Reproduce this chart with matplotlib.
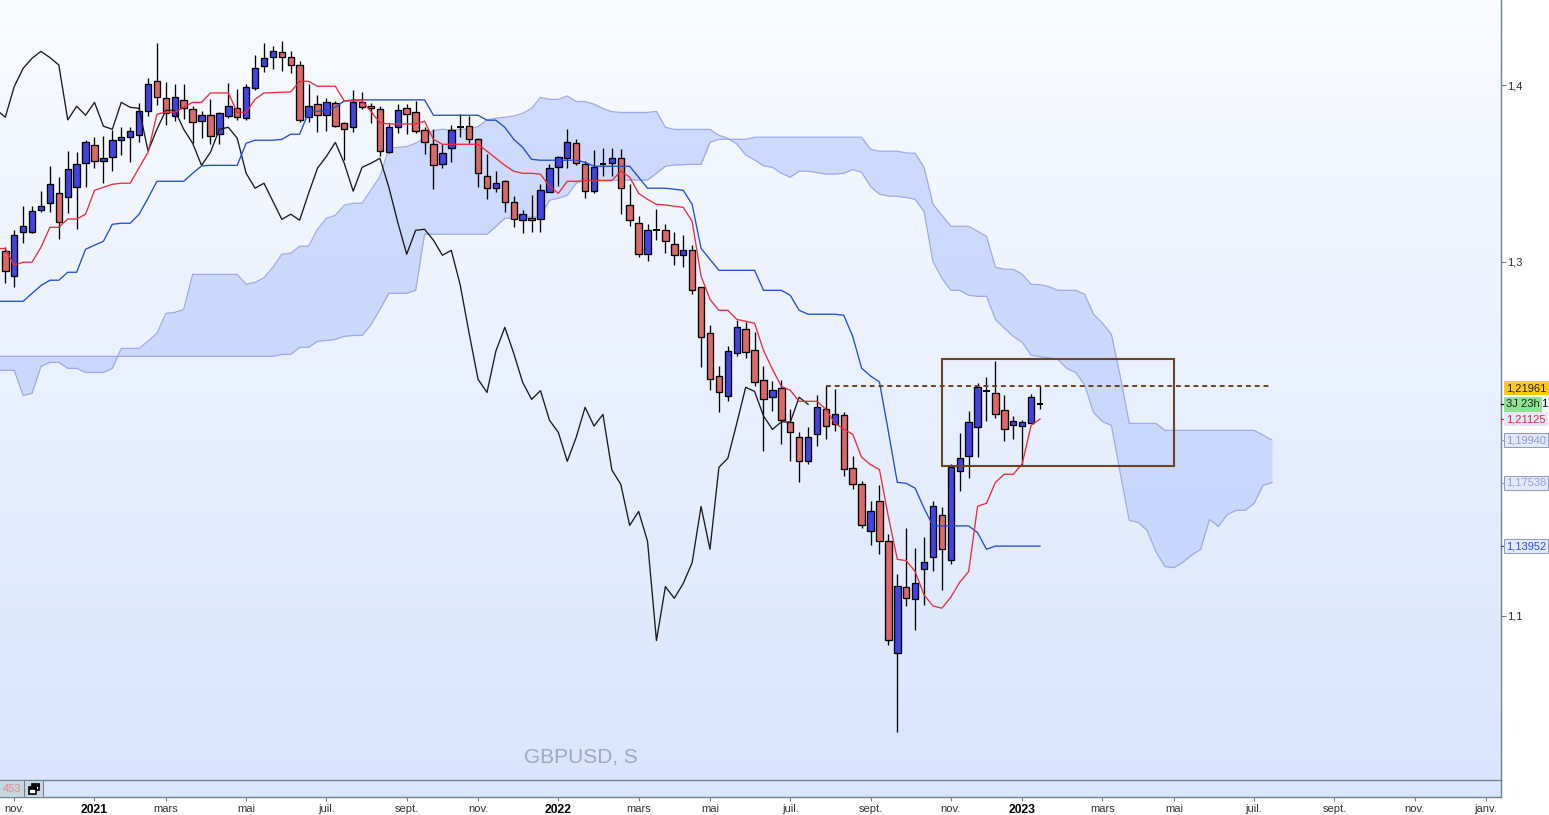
import numpy as np
import matplotlib
matplotlib.use("Agg")
import matplotlib.pyplot as plt
from matplotlib.colors import LinearSegmentedColormap
from matplotlib.patches import Rectangle

plt.rcParams["font.family"] = ["Liberation Sans", "DejaVu Sans"]

# weekly GBPUSD candles, one value per week
candle_high = [
    1.3087, 1.3181, 1.3317, 1.3317, 1.3400, 1.3543, 1.3481, 1.3627, 1.3622, 1.3690,
    1.3707, 1.3712, 1.3746, 1.3763, 1.3763, 1.3901, 1.4038, 1.4236, 1.4015, 1.4004,
    1.4004, 1.3882, 1.3853, 1.3919, 1.3850, 1.4010, 1.3976, 1.4004, 1.4170, 1.4236,
    1.4221, 1.4249, 1.4190, 1.4134, 1.4004, 1.3942, 1.3925, 1.3908, 1.3789, 1.3972,
    1.3963, 1.3897, 1.3880, 1.3784, 1.3893, 1.3893, 1.3910, 1.3761, 1.3750, 1.3665,
    1.3774, 1.3836, 1.3825, 1.3699, 1.3610, 1.3514, 1.3464, 1.3373, 1.3292, 1.3379,
    1.3441, 1.3552, 1.3599, 1.3752, 1.3693, 1.3573, 1.3633, 1.3644, 1.3644, 1.3639,
    1.3441, 1.3260, 1.3213, 1.3298, 1.3213, 1.3168, 1.3151, 1.3096, 1.2857, 1.2644,
    1.2413, 1.2526, 1.2673, 1.2661, 1.2605, 1.2413, 1.2328, 1.2332, 1.2170, 1.2038,
    1.2066, 1.2249, 1.2302, 1.2285, 1.2153, 1.1902, 1.1763, 1.1650, 1.1740, 1.1464,
    1.1238, 1.1497, 1.1384, 1.1447, 1.1650, 1.1616, 1.1859, 1.2034, 1.2158, 1.2317,
    1.2349, 1.2443, 1.2249, 1.2130, 1.2106, 1.2254, 1.2300,
]
body_top = [
    1.3061, 1.3151, 1.3202, 1.3287, 1.3315, 1.3439, 1.3388, 1.3524, 1.3552, 1.3676,
    1.3659, 1.3586, 1.3688, 1.3705, 1.3739, 1.3852, 1.4004, 1.4021, 1.3925, 1.3931,
    1.3917, 1.3863, 1.3829, 1.3829, 1.3840, 1.3880, 1.3872, 1.3987, 1.4094, 1.4151,
    1.4190, 1.4185, 1.4157, 1.4111, 1.3880, 1.3891, 1.3902, 1.3897, 1.3784, 1.3902,
    1.3902, 1.3880, 1.3863, 1.3761, 1.3857, 1.3868, 1.3846, 1.3744, 1.3665, 1.3614,
    1.3746, 1.3761, 1.3767, 1.3693, 1.3484, 1.3445, 1.3456, 1.3337, 1.3270, 1.3247,
    1.3405, 1.3529, 1.3592, 1.3676, 1.3671, 1.3552, 1.3535, 1.3556, 1.3586, 1.3586,
    1.3320, 1.3219, 1.3179, 1.3181, 1.3179, 1.3100, 1.3066, 1.3066, 1.2857, 1.2597,
    1.2354, 1.2496, 1.2631, 1.2620, 1.2501, 1.2332, 1.2275, 1.2287, 1.2095, 1.2010,
    1.2010, 1.2179, 1.2168, 1.2140, 1.2134, 1.1835, 1.1744, 1.1592, 1.1648, 1.1422,
    1.1168, 1.1162, 1.1185, 1.1304, 1.1620, 1.1569, 1.1840, 1.1891, 1.2094, 1.2292,
    1.2271, 1.2258, 1.2162, 1.2100, 1.2094, 1.2236, 1.2196,
]
body_bottom = [
    1.2948, 1.2923, 1.3168, 1.3172, 1.3296, 1.3332, 1.3225, 1.3366, 1.3422, 1.3558,
    1.3569, 1.3569, 1.3592, 1.3688, 1.3705, 1.3716, 1.3852, 1.3931, 1.3840, 1.3823,
    1.3868, 1.3789, 1.3795, 1.3710, 1.3722, 1.3823, 1.3818, 1.3812, 1.3981, 1.4106,
    1.4157, 1.4157, 1.4111, 1.3801, 1.3818, 1.3829, 1.3829, 1.3767, 1.3750, 1.3761,
    1.3874, 1.3868, 1.3626, 1.3620, 1.3761, 1.3835, 1.3739, 1.3676, 1.3546, 1.3552,
    1.3642, 1.3761, 1.3693, 1.3501, 1.3417, 1.3417, 1.3337, 1.3245, 1.3236, 1.3236,
    1.3241, 1.3394, 1.3535, 1.3586, 1.3558, 1.3400, 1.3400, 1.3556, 1.3558, 1.3417,
    1.3236, 1.3044, 1.3044, 1.3181, 1.3117, 1.3038, 1.3038, 1.2840, 1.2575, 1.2337,
    1.2264, 1.2241, 1.2484, 1.2490, 1.2321, 1.2224, 1.2236, 1.2106, 1.2038, 1.1874,
    1.1874, 1.2027, 1.2072, 1.2083, 1.1829, 1.1744, 1.1513, 1.1479, 1.1422, 1.0863,
    1.0789, 1.1100, 1.1095, 1.1264, 1.1332, 1.1377, 1.1315, 1.1818, 1.1902, 1.2066,
    1.2271, 1.2140, 1.2055, 1.2077, 1.2072, 1.2089, 1.2196,
]
candle_low = [
    1.2880, 1.2857, 1.3106, 1.3162, 1.3285, 1.3285, 1.3132, 1.3279, 1.3187, 1.3426,
    1.3533, 1.3449, 1.3516, 1.3607, 1.3567, 1.3680, 1.3827, 1.3887, 1.3776, 1.3799,
    1.3810, 1.3675, 1.3703, 1.3669, 1.3669, 1.3812, 1.3801, 1.3801, 1.3970, 1.4076,
    1.4093, 1.4081, 1.4070, 1.3793, 1.3789, 1.3733, 1.3742, 1.3761, 1.3577, 1.3737,
    1.3863, 1.3787, 1.3599, 1.3614, 1.3731, 1.3725, 1.3727, 1.3609, 1.3411, 1.3533,
    1.3567, 1.3708, 1.3671, 1.3426, 1.3354, 1.3398, 1.3281, 1.3196, 1.3162, 1.3172,
    1.3172, 1.3394, 1.3430, 1.3533, 1.3546, 1.3360, 1.3388, 1.3488, 1.3486, 1.3273,
    1.3202, 1.3027, 1.3004, 1.3123, 1.3053, 1.2982, 1.2974, 1.2821, 1.2409, 1.2277,
    1.2155, 1.2217, 1.2471, 1.2460, 1.2302, 1.1934, 1.2160, 1.1972, 1.1878, 1.1759,
    1.1861, 1.1961, 1.2002, 1.2046, 1.1793, 1.1720, 1.1499, 1.1401, 1.1352, 1.0838,
    1.0347, 1.1059, 1.0923, 1.1062, 1.1256, 1.1149, 1.1292, 1.1708, 1.1782, 1.1900,
    1.2104, 1.2121, 1.1991, 1.2002, 1.1853, 1.2089, 1.2172,
]
# r = down week, b = up week, d = doji
candle_kind = (
    "rbbbbbrbbb" "rbbbbbbrrb" "rrbrbbrbbb" "brrrbrbrrb" "rrrbbrrrrb" "bdrrrbrrbr"
    "bbbbrrbdbr" "rrbdrrbrrr" "rbbrrrbrrr" "bbrbrrrbrr" "brbbbrbbbb" "drrbbbd"
)

# ichimoku lines start one week before the first candle
tenkan = [
    1.3076, 1.3076, 1.2982, 1.2999, 1.2999, 1.3083, 1.3196, 1.3196, 1.3243, 1.3243, 1.3270,
    1.3405, 1.3422, 1.3439, 1.3445, 1.3445, 1.3533, 1.3620, 1.3835, 1.3846, 1.3846,
    1.3874, 1.3902, 1.3902, 1.3955, 1.3955, 1.3955, 1.3846, 1.3846, 1.3919, 1.3955,
    1.3957, 1.3959, 1.3961, 1.4021, 1.4021, 1.3993, 1.3993, 1.3993, 1.3910, 1.3910,
    1.3910, 1.3850, 1.3787, 1.3780, 1.3780, 1.3780, 1.3780, 1.3795, 1.3693, 1.3665,
    1.3665, 1.3665, 1.3665, 1.3665, 1.3626, 1.3586, 1.3546, 1.3513, 1.3501, 1.3501,
    1.3496, 1.3428, 1.3388, 1.3456, 1.3456, 1.3460, 1.3460, 1.3460, 1.3460, 1.3513,
    1.3479, 1.3388, 1.3354, 1.3326, 1.3322, 1.3315, 1.3309, 1.3230, 1.2921, 1.2789,
    1.2727, 1.2727, 1.2676, 1.2665, 1.2654, 1.2501, 1.2394, 1.2298, 1.2275, 1.2213,
    1.2213, 1.2213, 1.2168, 1.2089, 1.2055, 1.2027, 1.1897, 1.1855, 1.1827, 1.1561,
    1.1320, 1.1313, 1.1251, 1.1119, 1.1057, 1.1044, 1.1106, 1.1191, 1.1251, 1.1620,
    1.1637, 1.1755, 1.1801, 1.1801, 1.1859, 1.2077, 1.21125,
]
kijun = [
    1.2778, 1.2778, 1.2778, 1.2778, 1.2823, 1.2867, 1.2897, 1.2897, 1.2942, 1.2942, 1.3072,
    1.3095, 1.3117, 1.3213, 1.3219, 1.3219, 1.3270, 1.3360, 1.3456, 1.3456, 1.3456,
    1.3456, 1.3501, 1.3543, 1.3546, 1.3546, 1.3546, 1.3546, 1.3671, 1.3688, 1.3688,
    1.3688, 1.3693, 1.3722, 1.3722, 1.3846, 1.3852, 1.3852, 1.3874, 1.3910, 1.3916,
    1.3916, 1.3916, 1.3916, 1.3916, 1.3916, 1.3916, 1.3916, 1.3916, 1.3829, 1.3829,
    1.3829, 1.3829, 1.3829, 1.3829, 1.3801, 1.3801, 1.3761, 1.3693, 1.3648, 1.3580,
    1.3575, 1.3575, 1.3575, 1.3575, 1.3575, 1.3563, 1.3541, 1.3541, 1.3541, 1.3541,
    1.3541, 1.3479, 1.3417, 1.3417, 1.3417, 1.3411, 1.3405, 1.3326, 1.3077, 1.3015,
    1.2953, 1.2953, 1.2953, 1.2953, 1.2953, 1.2840, 1.2840, 1.2840, 1.2812, 1.2727,
    1.2705, 1.2705, 1.2705, 1.2705, 1.2699, 1.2580, 1.2400, 1.2356, 1.2322, 1.2042,
    1.1755, 1.1750, 1.1722, 1.1609, 1.1509, 1.1509, 1.1509, 1.1509, 1.1509, 1.1471,
    1.1377, 1.1395, 1.1395, 1.1395, 1.1395, 1.1395, 1.13952,
]
chikou = [
    1.3861, 1.3818, 1.3991, 1.4094, 1.4151, 1.4190, 1.4155, 1.4113, 1.3803, 1.3880, 1.3829,
    1.3902, 1.3767, 1.3750, 1.3902, 1.3874, 1.3868, 1.3626, 1.3750, 1.3857, 1.3857,
    1.3750, 1.3671, 1.3546, 1.3620, 1.3750, 1.3761, 1.3699, 1.3501, 1.3417, 1.3445,
    1.3343, 1.3241, 1.3270, 1.3236, 1.3388, 1.3530, 1.3597, 1.3676, 1.3558, 1.3400,
    1.3535, 1.3558, 1.3586, 1.3422, 1.3224, 1.3044, 1.3179, 1.3185, 1.3123, 1.3038,
    1.3066, 1.2870, 1.2597, 1.2337, 1.2263, 1.2497, 1.2631, 1.2484, 1.2320, 1.2224,
    1.2273, 1.2107, 1.2037, 1.1874, 1.2009, 1.2179, 1.2073, 1.2139, 1.1825, 1.1744,
    1.1512, 1.1591, 1.1422, 1.0861, 1.1166, 1.1100, 1.1184, 1.1301, 1.1619, 1.1377,
    1.1840, 1.1891, 1.2088, 1.2292, 1.2269, 1.2130, 1.2054, 1.2097, 1.2095, 1.2236,
    1.2196,
]
cloud_a = [
    1.2388, 1.2388, 1.2388, 1.2246, 1.2258, 1.2410, 1.2433, 1.2433, 1.2399, 1.2399, 1.2376,
    1.2376, 1.2376, 1.2399, 1.2512, 1.2512, 1.2512, 1.2553, 1.2597, 1.2710, 1.2715,
    1.2732, 1.2930, 1.2930, 1.2930, 1.2930, 1.2930, 1.2930, 1.2874, 1.2885, 1.2911,
    1.2970, 1.3044, 1.3049, 1.3089, 1.3089, 1.3185, 1.3247, 1.3264, 1.3321, 1.3332,
    1.3332, 1.3407, 1.3482, 1.3642, 1.3648, 1.3652, 1.3671, 1.3699, 1.3742, 1.3750,
    1.3746, 1.3750, 1.3750, 1.3765, 1.3803, 1.3812, 1.3818, 1.3825, 1.3840, 1.3868,
    1.3930, 1.3919, 1.3919, 1.3938, 1.3907, 1.3906, 1.3892, 1.3868, 1.3849, 1.3845,
    1.3845, 1.3845, 1.3845, 1.3851, 1.3761, 1.3749, 1.3749, 1.3749, 1.3749, 1.3749,
    1.3716, 1.3699, 1.3667, 1.3605, 1.3577, 1.3543, 1.3535, 1.3501, 1.3479, 1.3513,
    1.3513, 1.3505, 1.3496, 1.3497, 1.3501, 1.3522, 1.3507, 1.3426, 1.3383, 1.3373,
    1.3371, 1.3364, 1.3354, 1.3285, 1.3002, 1.2908, 1.2840, 1.2840, 1.2812, 1.2806,
    1.2806, 1.2676, 1.2626, 1.2580, 1.2547, 1.2474, 1.2465, 1.2459, 1.2450, 1.2399,
    1.2376, 1.2305, 1.2150, 1.2098, 1.2077, 1.1806, 1.1540, 1.1529, 1.1484, 1.1363,
    1.1279, 1.1273, 1.1303, 1.1344, 1.1376, 1.1546, 1.1506, 1.1574, 1.1597, 1.1597,
    1.1636, 1.1738, 1.17538,
]
cloud_b = [
    1.2467, 1.2467, 1.2467, 1.2467, 1.2467, 1.2467, 1.2467, 1.2467, 1.2467, 1.2467, 1.2467,
    1.2467, 1.2467, 1.2467, 1.2467, 1.2467, 1.2467, 1.2467, 1.2467, 1.2467, 1.2467,
    1.2467, 1.2467, 1.2467, 1.2467, 1.2467, 1.2467, 1.2467, 1.2467, 1.2467, 1.2467,
    1.2467, 1.2478, 1.2478, 1.2518, 1.2518, 1.2552, 1.2557, 1.2563, 1.2580, 1.2585,
    1.2585, 1.2646, 1.2732, 1.2823, 1.2823, 1.2823, 1.2840, 1.3157, 1.3157, 1.3157,
    1.3157, 1.3157, 1.3157, 1.3157, 1.3157, 1.3200, 1.3247, 1.3247, 1.3255, 1.3255,
    1.3255, 1.3349, 1.3360, 1.3377, 1.3445, 1.3463, 1.3463, 1.3463, 1.3463, 1.3463,
    1.3463, 1.3463, 1.3463, 1.3501, 1.3542, 1.3548, 1.3550, 1.3552, 1.3552, 1.3676,
    1.3693, 1.3693, 1.3693, 1.3693, 1.3705, 1.3705, 1.3705, 1.3705, 1.3705, 1.3705,
    1.3705, 1.3705, 1.3705, 1.3705, 1.3705, 1.3705, 1.3705, 1.3637, 1.3626, 1.3626,
    1.3626, 1.3616, 1.3614, 1.3535, 1.3326, 1.3264, 1.3202, 1.3202, 1.3202, 1.3174,
    1.3145, 1.2970, 1.2959, 1.2959, 1.2931, 1.2874, 1.2872, 1.2861, 1.2840, 1.2840,
    1.2840, 1.2818, 1.2705, 1.2654, 1.2592, 1.2352, 1.2088, 1.2088, 1.2088, 1.2088,
    1.2049, 1.2049, 1.2049, 1.2049, 1.2049, 1.2049, 1.2049, 1.2049, 1.2049, 1.2049,
    1.2049, 1.2022, 1.19940,
]

# hand drawn range box and resistance line
box_weeks = [105, 131]
box_prices = [1.1847, 1.2452]
level_weeks = [92, 142]
level_price = 1.2300

month_weeks = [1, 10, 18, 27, 36, 45, 53, 62, 71, 79, 88, 97, 106, 114, 123, 131, 140, 149, 158, 166]
month_labels = ["nov.", "2021", "mars", "mai", "juil.", "sept.", "nov.", "2022", "mars", "mai", "juil.",
                "sept.", "nov.", "2023", "mars", "mai", "juil.", "sept.", "nov.", "janv."]
year_labels = ["2021", "2022", "2023"]
price_ticks = [1.1, 1.3, 1.4]
price_tick_labels = ["1,1", "1,3", "1,4"]

W, H = 1549, 815
RIGHT = 1500.7
PLOT_BOTTOM = 780
STRIP_BOTTOM = 797
XLIM = (-5.3 / 8.92, (RIGHT - 5.3) / 8.92)
YLIM = (1.4 - (PLOT_BOTTOM - 85) / 1770, 1.4 + 85 / 1770)
AXIS_COL = "#6E8296"
BROWN = "#6B4423"
TEXT_SIZE = 8

fig = plt.figure(figsize=(W / 100, H / 100), dpi=100, facecolor="white")
ax = fig.add_axes([0, 1 - PLOT_BOTTOM / H, RIGHT / W, PLOT_BOTTOM / H])
strip = fig.add_axes([0, 1 - STRIP_BOTTOM / H, RIGHT / W, (STRIP_BOTTOM - PLOT_BOTTOM) / H])

# background gradient
bg = LinearSegmentedColormap.from_list("bg", ["#F9FBFF", "#D9E5FE"])
ax.imshow(np.linspace(0, 1, 256).reshape(-1, 1), extent=[0, 1, 0, 1], transform=ax.transAxes,
          cmap=bg, aspect="auto", zorder=0)

# kumo
line_x = np.arange(len(tenkan)) - 1
cloud_x = np.arange(len(cloud_a)) - 1
ax.fill_between(cloud_x, cloud_a, cloud_b, color="#BCCEFD", alpha=0.68, lw=0, zorder=1)
ax.plot(cloud_x, cloud_a, color="#9FA9EC", lw=0.9, zorder=1.5)
ax.plot(cloud_x, cloud_b, color="#9FA9EC", lw=0.9, zorder=1.5)

# candles
weeks = np.arange(len(candle_high))
kinds = np.array(list(candle_kind))
top = np.array(body_top)
bottom = np.array(body_bottom)
ax.vlines(weeks, candle_low, candle_high, color="black", lw=0.95, zorder=2)
for kind, col in (("r", "#DC6868"), ("b", "#4343E2")):
    m = kinds == kind
    ax.bar(weeks[m], top[m] - bottom[m], bottom=bottom[m], width=0.72, color=col,
           edgecolor="black", linewidth=0.95, zorder=3)
m = kinds == "d"
ax.hlines(top[m], weeks[m] - 0.38, weeks[m] + 0.38, color="black", lw=1.4, zorder=3)

# ichimoku lines
ax.plot(np.arange(len(chikou)) - 1, chikou, color="#1A1A1A", lw=0.95, zorder=4)
ax.plot(line_x, kijun, color="#1F4FD2", lw=0.95, zorder=4)
ax.plot(line_x, tenkan, color="#E82C3C", lw=0.95, zorder=4.5)

# drawings
ax.add_patch(Rectangle((box_weeks[0], box_prices[0]), box_weeks[1] - box_weeks[0], box_prices[1] - box_prices[0],
                       fill=False, edgecolor=BROWN, lw=1.5, zorder=5))
ax.plot(level_weeks, [level_price, level_price], color=BROWN, lw=1.4, dashes=(2.5, 2.0), zorder=5)

ax.text(524 / RIGHT, (PLOT_BOTTOM - 757) / PLOT_BOTTOM, "GBPUSD, S", transform=ax.transAxes,
        fontsize=15, color="#9AA9C9", ha="left", va="center")

ax.set_xlim(XLIM)
ax.set_ylim(YLIM)
ax.set_xticks([])
ax.yaxis.tick_right()
ax.set_yticks(price_ticks)
ax.set_yticklabels(price_tick_labels, fontsize=TEXT_SIZE, color="#2A2A2A")
ax.tick_params(axis="y", length=3.5, width=0.8, color=AXIS_COL, pad=1)
for side in ("top", "left", "bottom"):
    ax.spines[side].set_visible(False)
ax.spines["right"].set_color(AXIS_COL)
ax.spines["right"].set_linewidth(1.0)


def price_tag(value, text, fg, bg_col, edge, tick_col, dx=5.5, dy=0, pad=0.18):
    if tick_col:
        ax.plot([1, 1.0035], [value, value], color=tick_col, lw=0.9, clip_on=False,
                transform=ax.get_yaxis_transform(), zorder=6)
    ax.annotate(text, xy=(1, value), xycoords=("axes fraction", "data"), xytext=(dx, dy),
                textcoords="offset pixels", fontsize=TEXT_SIZE, color=fg, ha="left", va="center",
                annotation_clip=False, zorder=7,
                bbox=dict(boxstyle="square,pad=%s" % pad, fc=bg_col, ec=edge, lw=0.7))


# right hand price tags
price_tag(1.17538, "1,17538", "#979FE4", "#E3E9FA", "#8D9BB8", "#979FE4")
price_tag(1.13952, "1,13952", "#2A50D0", "#E3E9FA", "#8D9BB8", "#2A50D0")
price_tag(1.19940, "1,19940", "#8C98E0", "#E3E9FA", "#8D9BB8", "#8C98E0")
price_tag(1.21125, "1,21125", "#E02A3A", "#E3E9FA", "none", "#E02A3A")
# last price tag sits above its level, the candle timer covers the usual spot
price_tag(1.21961, "1", "black", "#F4F6FC", "none", "black", dx=40.5)
price_tag(1.21961, "3J 23h", "#222222", "#8FE28F", "none", None, dx=5.5, pad=0.2)
price_tag(1.21961, "1,21961", "#222222", "#FFC915", "none", None, dy=16)

# strip under the chart with month ticks
strip.set_facecolor("#DAE5FE")
strip.set_xlim(XLIM)
strip.set_ylim(0, 1)
strip.set_yticks([])
strip.set_xticks(month_weeks)
strip.set_xticklabels(month_labels, fontsize=TEXT_SIZE, color="#333333")
for lab in strip.get_xticklabels():
    if lab.get_text() in year_labels:
        lab.set_fontweight("bold")
        lab.set_fontsize(8.7)
        lab.set_color("black")
strip.tick_params(axis="x", length=3, width=0.8, color=AXIS_COL, pad=2)
for side in strip.spines:
    strip.spines[side].set_color(AXIS_COL)
    strip.spines[side].set_linewidth(1.0)
strip.spines["left"].set_visible(False)


def fig_rect(x0, y0, x1, y1, **kw):
    fig.add_artist(Rectangle((x0 / W, 1 - y1 / H), (x1 - x0) / W, (y1 - y0) / H,
                             transform=fig.transFigure, **kw))


# status cells and the little window icon
fig_rect(0, 781, 24, 796.5, fc="#C7D5DF", ec="none", zorder=5)
fig_rect(25, 781, 43, 796.5, fc="#C7D5DF", ec="none", zorder=5)
fig_rect(24, 780.5, 25, 797, fc=AXIS_COL, ec="none", zorder=6)
fig_rect(43, 780.5, 44, 797, fc=AXIS_COL, ec="none", zorder=6)
fig.text(2.5 / W, 1 - 789 / H, "453", fontsize=TEXT_SIZE, color="#E88A8A", ha="left", va="center", zorder=7)
fig_rect(32, 784, 39, 790, fc="white", ec="black", lw=1.2, zorder=7)
fig_rect(32, 784, 39, 785.5, fc="black", ec="black", lw=0.5, zorder=7)
fig_rect(29, 787, 36, 793.5, fc="white", ec="black", lw=1.2, zorder=8)
fig_rect(29, 787, 36, 788.5, fc="black", ec="black", lw=0.5, zorder=8)

fig.savefig("out.png", dpi=100)
